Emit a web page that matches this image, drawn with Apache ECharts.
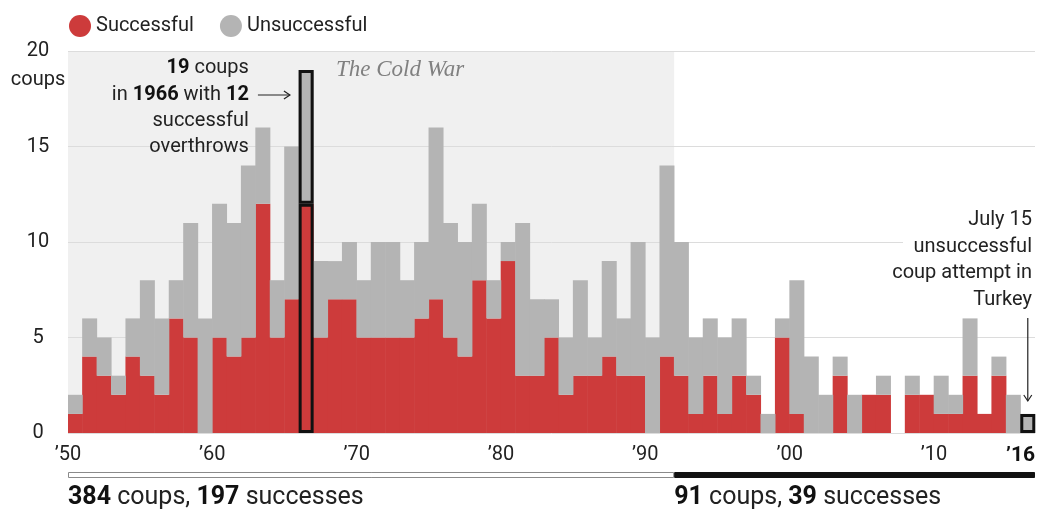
<!DOCTYPE html>
<html><head><meta charset="utf-8">
<script src="https://cdn.jsdelivr.net/npm/echarts@6/dist/echarts.min.js"></script>
<style>html,body{margin:0;padding:0;background:#fff}#c{width:1042px;height:514px}</style>
</head><body><div id="c"></div>
<script>
const years = [1950,1951,1952,1953,1954,1955,1956,1957,1958,1959,
  1960,1961,1962,1963,1964,1965,1966,1967,1968,1969,
  1970,1971,1972,1973,1974,1975,1976,1977,1978,1979,
  1980,1981,1982,1983,1984,1985,1986,1987,1988,1989,
  1990,1991,1992,1993,1994,1995,1996,1997,1998,1999,
  2000,2001,2002,2003,2004,2005,2006,2007,2008,2009,
  2010,2011,2012,2013,2014,2015,2016];
const successful = [1,4,3,2,4,3,2,6,5,0,
  5,4,5,12,5,7,12,5,7,7,
  5,5,5,5,6,7,5,4,8,6,
  9,3,3,5,2,3,3,4,3,3,
  0,4,3,1,3,1,3,2,0,5,
  1,0,0,3,0,2,2,0,2,2,
  1,1,3,1,3,0,0];
const unsuccessful = [1,2,2,1,2,5,4,2,6,6,
  7,7,9,4,3,8,7,4,2,3,
  3,5,5,3,4,9,6,6,4,2,
  1,8,4,2,3,5,2,5,3,7,
  5,10,7,4,3,4,3,1,1,1,
  7,4,2,1,2,0,1,0,1,0,
  2,1,3,0,1,2,1];
const tickYears = [1950,1960,1970,1980,1990,2000,2010,2016];
const tickLabels = ['’50','’60','’70','’80','’90','’00','’10','’16'];
const highlightYears = [1966, 2016];
const coldWarYears = [1950, 1992];
const periodStarts = [1950, 1992];
const periodEnds = [1992, 2017];
const periodCoups = [384, 91];
const periodSuccesses = [197, 39];

const F = 'Roboto, "Liberation Sans", sans-serif';
const RED = '#cd3b3b', GRAY = '#b4b4b4', SHADE = '#f0f0f0', INK = '#222';

const isHL = i => highlightYears.indexOf(years[i]) >= 0;
const hlS = successful.map((v, i) => (isHL(i) && v > 0) ? v : '-');
const hlU = unsuccessful.map((v, i) => isHL(i) ? v : '-');

const chart = echarts.init(document.getElementById('c'), null, {renderer: 'canvas'});
const hlStyle = {color: 'rgba(0,0,0,0)', borderColor: '#111', borderWidth: 3};
const BW = 15;
chart.setOption({
  animation: false,
  grid: {left: 68, right: 7, top: 51, bottom: 81},
  legend: {
    data: ['Successful', 'Unsuccessful'], left: 64, top: 10, icon: 'circle',
    itemWidth: 22, itemHeight: 22, itemGap: 26,
    textStyle: {fontSize: 20, color: INK, fontFamily: F}
  },
  xAxis: [
    {type: 'category', data: years.map(String), show: false, boundaryGap: true},
    {type: 'value', min: 1950, max: 2017, position: 'bottom',
      axisLine: {show: false}, axisTick: {show: false}, splitLine: {show: false},
      axisLabel: {
        customValues: tickYears, margin: 12, fontSize: 20, color: INK, fontFamily: F,
        formatter: v => {
          const k = tickYears.indexOf(Math.round(v));
          if (k < 0) return '';
          return k === tickYears.length - 1 ? '{b|' + tickLabels[k] + '}' : tickLabels[k];
        },
        rich: {b: {fontWeight: 'bold', fontSize: 21, color: '#111', fontFamily: F}}
      }}
  ],
  yAxis: {
    type: 'value', min: 0, max: 20, interval: 5,
    axisLine: {show: false}, axisTick: {show: false},
    splitLine: {lineStyle: {color: '#dcdcdc', width: 1}},
    axisLabel: {align: 'center', margin: 30, fontSize: 20, color: INK, fontFamily: F}
  },
  series: [
    {name: 'Successful', type: 'bar', stack: 'a', barWidth: BW, barGap: '-100%',
      itemStyle: {color: RED}, data: successful, xAxisIndex: 0},
    {name: 'Unsuccessful', type: 'bar', stack: 'a', barWidth: BW, barGap: '-100%',
      itemStyle: {color: GRAY}, data: unsuccessful, xAxisIndex: 0},
    {name: 'hlS', type: 'bar', stack: 'h', barWidth: BW, barGap: '-100%',
      itemStyle: hlStyle, data: hlS, xAxisIndex: 0, silent: true},
    {name: 'hlU', type: 'bar', stack: 'h', barWidth: BW, barGap: '-100%',
      itemStyle: hlStyle, data: hlU, xAxisIndex: 0, silent: true},
    {name: 'coldwar', type: 'line', xAxisIndex: 1, yAxisIndex: 0, data: [], silent: true,
      markArea: {silent: true, z: -1, itemStyle: {color: SHADE},
        data: [[{xAxis: coldWarYears[0]}, {xAxis: coldWarYears[1]}]]}}
  ]
});

const px = y => chart.convertToPixel({xAxisIndex: 1}, y);
const g = [];
const txt = (x, y, text, opts) => {
  g.push({type: 'text', x: x, y: y, z: 100, style: Object.assign({
    text: text, fontSize: 20, fontFamily: F, fill: INK, align: 'left', verticalAlign: 'middle',
    rich: {b: {fontWeight: 'bold', fontSize: 20, fontFamily: F, fill: '#111'}}
  }, opts || {})});
};
// y-axis unit
txt(38, 80, 'coups', {align: 'center'});
// 1966 annotation
const x66 = px(1966);
const ax = x66 - 50;
txt(ax, 68, '{b|19} coups', {align: 'right'});
txt(ax, 95, 'in {b|1966} with {b|12}', {align: 'right'});
txt(ax, 121, 'successful', {align: 'right'});
txt(ax, 147, 'overthrows', {align: 'right'});
g.push({type: 'polyline', z: 100, shape: {points: [[x66 - 41, 95], [x66 - 9, 95]]}, style: {stroke: INK, lineWidth: 1.2, fill: null}});
g.push({type: 'polyline', z: 100, shape: {points: [[x66 - 15, 91], [x66 - 9, 95], [x66 - 15, 99]]}, style: {stroke: INK, lineWidth: 1.2, fill: null}});
// Cold War label
txt(x66 + 37, 70, 'The Cold War', {fontFamily: '"Liberation Serif", "DejaVu Serif", serif', fontStyle: 'italic', fontSize: 23, fill: '#808080'});
// Turkey annotation
const xr = 1032;
g.push({type: 'rect', z: 90, shape: {x: 903, y: 236, width: 135, height: 12}, style: {fill: '#fff'}});
txt(xr, 220, 'July 15', {align: 'right'});
txt(xr, 247, 'unsuccessful', {align: 'right'});
txt(xr, 273, 'coup attempt in', {align: 'right'});
txt(xr, 300, 'Turkey', {align: 'right'});
const x16 = px(2016.5);
g.push({type: 'polyline', z: 100, shape: {points: [[x16, 318], [x16, 401]]}, style: {stroke: INK, lineWidth: 1.2, fill: null}});
g.push({type: 'polyline', z: 100, shape: {points: [[x16 - 4, 395], [x16, 401], [x16 + 4, 395]]}, style: {stroke: INK, lineWidth: 1.2, fill: null}});
// period bars and stats
for (let k = 0; k < periodStarts.length; k++) {
  const a = px(periodStarts[k]), b = px(periodEnds[k]);
  g.push({type: 'rect', z: 100, shape: {x: a + 0.5, y: 472.5, width: b - a - 1, height: 5},
    style: k === 0 ? {fill: '#fff', stroke: '#8a8a8a', lineWidth: 1} : {fill: '#111', stroke: '#111', lineWidth: 1}});
  txt(a, 498, '{b|' + periodCoups[k] + '} coups, {b|' + periodSuccesses[k] + '} successes',
    {fontSize: 25, rich: {b: {fontWeight: 'bold', fontSize: 25, fontFamily: F, fill: '#111'}}});
}
chart.setOption({graphic: g});
</script>
</body></html>
